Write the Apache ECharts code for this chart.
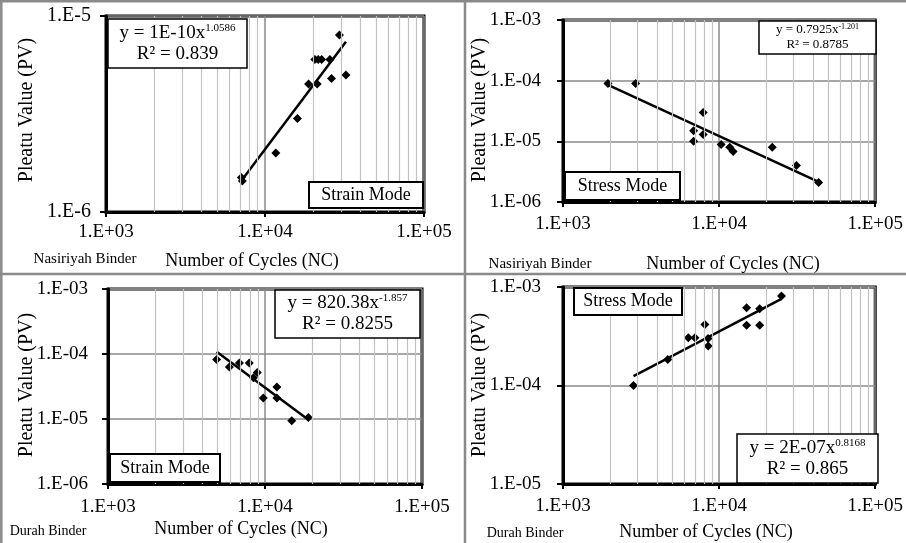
<!DOCTYPE html>
<html>
<head>
<meta charset="utf-8">
<script src="https://cdn.jsdelivr.net/npm/echarts@6/dist/echarts.min.js"></script>
<style>
  html, body { margin: 0; padding: 0; background: #fff; }
  #chart { width: 906px; height: 543px; }
</style>
</head>
<body>
<div id="chart"></div>
<script>
// Nasiriyah binder, strain mode
const nasStrainCycles = [7100, 7200, 11700, 16000, 18800, 21300, 20600, 21600, 22700, 25600, 26200, 29400, 32300];
const nasStrainPV     = [1.5e-6, 1.44e-6, 2.0e-6, 3.0e-6, 4.5e-6, 4.5e-6, 6.0e-6, 6.0e-6, 6.0e-6, 6.0e-6, 4.8e-6, 8.0e-6, 5.0e-6];

// Nasiriyah binder, stress mode
const nasStressCycles = [1940, 2920, 6870, 6870, 7910, 7910, 10300, 11700, 12300, 21900, 31300, 43400];
const nasStressPV     = [9.0e-5, 9.0e-5, 1.5e-5, 1.0e-5, 3.0e-5, 1.3e-5, 8.9e-6, 8.0e-6, 6.8e-6, 8.0e-6, 4.0e-6, 2.1e-6];

// Durah binder, strain mode
const durStrainCycles = [4920, 5930, 6870, 7940, 8440, 8930, 9750, 11900, 11900, 14800, 18900];
const durStrainPV     = [8.2e-5, 6.3e-5, 7.3e-5, 7.3e-5, 4.3e-5, 5.2e-5, 2.1e-5, 3.1e-5, 2.1e-5, 9.4e-6, 1.05e-5];

// Durah binder, stress mode
const durStressCycles = [2830, 4690, 6350, 7000, 8110, 8510, 8500, 15000, 15000, 18200, 18200, 25100];
const durStressPV     = [1.0e-4, 1.84e-4, 3.05e-4, 3.05e-4, 4.15e-4, 2.52e-4, 3.0e-4, 6.15e-4, 4.1e-4, 6.0e-4, 4.1e-4, 8.1e-4];

// Tick labels
const xTickLabels = ['1.E+03', '1.E+04', '1.E+05'];
const yTickLabelsShort = ['1.E-6', '1.E-5'];
const yTickLabelsSix = ['1.E-06', '1.E-05', '1.E-04', '1.E-03'];
const yTickLabelsFive = ['1.E-05', '1.E-04', '1.E-03'];

const SERIF = "'Liberation Serif', 'Times New Roman', serif";

// Least-squares power fit (straight line in log-log space), spanning the data range
function powerTrend(xs, ys) {
  const n = xs.length;
  let sx = 0, sy = 0, sxx = 0, sxy = 0;
  for (let i = 0; i < n; i++) {
    const lx = Math.log(xs[i]), ly = Math.log(ys[i]);
    sx += lx; sy += ly; sxx += lx * lx; sxy += lx * ly;
  }
  const b = (n * sxy - sx * sy) / (n * sxx - sx * sx);
  const a = Math.exp((sy - b * sx) / n);
  const xmin = Math.min(...xs), xmax = Math.max(...xs);
  return [[xmin, a * Math.pow(xmin, b)], [xmax, a * Math.pow(xmax, b)]];
}

// Intermediate gridline values (2..9 in each decade)
function minorValues(loExp, hiExp) {
  const out = [];
  for (let e = loExp; e < hiExp; e++) {
    for (let m = 2; m <= 9; m++) out.push(+(m * Math.pow(10, e)).toPrecision(6));
  }
  return out;
}

function expOf(v) { return Math.round(Math.log10(v)); }

const panels = [
  { grid: { left: 106, top: 16, width: 318, height: 196 }, xs: nasStrainCycles, ys: nasStrainPV,
    yMinExp: -6, yMaxExp: -5, yLabels: yTickLabelsShort, xMargin: 11, yMargin: 15, yFont: 20 },
  { grid: { left: 563, top: 20, width: 314, height: 182 }, xs: nasStressCycles, ys: nasStressPV,
    yMinExp: -6, yMaxExp: -3, yLabels: yTickLabelsSix, xMargin: 13, yMargin: 22, yFont: 19 },
  { grid: { left: 108, top: 289, width: 314, height: 195 }, xs: durStrainCycles, ys: durStrainPV,
    yMinExp: -6, yMaxExp: -3, yLabels: yTickLabelsSix, xMargin: 14, yMargin: 20, yFont: 19 },
  { grid: { left: 563, top: 287, width: 315, height: 197 }, xs: durStressCycles, ys: durStressPV,
    yMinExp: -5, yMaxExp: -3, yLabels: yTickLabelsFive, xMargin: 13, yMargin: 22, yFont: 19 }
];

const grids = [], xAxes = [], yAxes = [], series = [];

panels.forEach((p, i) => {
  grids.push(Object.assign({ show: true, borderColor: '#000', borderWidth: 3, backgroundColor: 'transparent' }, p.grid));

  xAxes.push({
    type: 'log', logBase: 10, gridIndex: i, min: 1e3, max: 1e5,
    axisLine: { show: true, lineStyle: { color: '#000', width: 3 } },
    axisTick: { show: true, length: 5, lineStyle: { color: '#000', width: 2 } },
    axisLabel: { margin: p.xMargin, color: '#000', fontFamily: SERIF, fontSize: 19,
      formatter: v => xTickLabels[expOf(v) - 3] || '', showMinLabel: true, showMaxLabel: true },
    splitLine: { show: true, lineStyle: { color: '#8a8a8a', width: 1.5 } }
  });

  yAxes.push({
    type: 'log', logBase: 10, gridIndex: i, min: Math.pow(10, p.yMinExp), max: Math.pow(10, p.yMaxExp),
    axisLine: { show: true, lineStyle: { color: '#000', width: 3 } },
    axisTick: { show: true, length: 6, lineStyle: { color: '#000', width: 2 } },
    axisLabel: { margin: p.yMargin, color: '#000', fontFamily: SERIF, fontSize: p.yFont,
      formatter: v => p.yLabels[expOf(v) - p.yMinExp] || '', showMinLabel: true, showMaxLabel: true },
    splitLine: { show: true, lineStyle: { color: '#8a8a8a', width: 1.5 } }
  });

  const pts = p.xs.map((x, k) => [x, p.ys[k]]);

  // minor gridlines carried by an invisible copy of the points
  const gridMarks = minorValues(3, 5).map(v => ({ xAxis: v }))
    .concat(minorValues(p.yMinExp, p.yMaxExp).map(v => ({ yAxis: v })));
  series.push({
    type: 'scatter', xAxisIndex: i, yAxisIndex: i, data: pts, symbolSize: 0, silent: true, z: 1,
    markLine: {
      silent: true, symbol: ['none', 'none'], label: { show: false },
      lineStyle: { color: '#c2c2c2', width: 1.2, type: 'solid' },
      emphasis: { disabled: true }, animation: false, data: gridMarks
    }
  });

  series.push({
    type: 'line', xAxisIndex: i, yAxisIndex: i, data: powerTrend(p.xs, p.ys),
    showSymbol: false, symbol: 'none', silent: true, z: 3,
    lineStyle: { color: '#000', width: 2.5 }
  });

  series.push({
    type: 'scatter', xAxisIndex: i, yAxisIndex: i, data: pts, symbol: 'diamond', symbolSize: 9,
    itemStyle: { color: '#000', opacity: 1, borderWidth: 0 }, z: 4, silent: true
  });
});

// --- annotations -------------------------------------------------------
function box(x, y, w, h, lw) {
  return { type: 'rect', z: 100, shape: { x: x, y: y, width: w, height: h },
    style: { fill: '#fff', stroke: '#000', lineWidth: lw } };
}
function label(x, y, text, size, extra) {
  return Object.assign({ type: 'text', z: 101, x: x, y: y,
    style: { text: text, fill: '#000', font: size + 'px ' + SERIF, align: 'center', verticalAlign: 'middle' } }, extra || {});
}
function equation(x, y, w, h, lhs, power, r2, size, supSize, lh) {
  return [
    box(x, y, w, h, 1.5),
    { type: 'text', z: 101, x: x + w / 2, y: y + h / 2,
      style: {
        text: '{m|' + lhs + '}{s|' + power + '}\n{m|' + r2 + '}',
        align: 'center', verticalAlign: 'middle',
        rich: {
          m: { fontFamily: SERIF, fontSize: size, fill: '#000', lineHeight: lh },
          s: { fontFamily: SERIF, fontSize: supSize, fill: '#000', lineHeight: lh, verticalAlign: 'top' }
        }
      } }
  ];
}

const frame = { stroke: '#8a8a8a', lineWidth: 2.5 };
const graphic = [
  { type: 'line', z: 50, shape: { x1: 0, y1: 1.3, x2: 906, y2: 1.3 }, style: frame },
  { type: 'line', z: 50, shape: { x1: 1.3, y1: 0, x2: 1.3, y2: 543 }, style: frame },
  { type: 'line', z: 50, shape: { x1: 465, y1: 0, x2: 465, y2: 543 }, style: frame },
  { type: 'line', z: 50, shape: { x1: 0, y1: 274, x2: 906, y2: 274 }, style: frame },

  // axis titles
  label(252, 261, 'Number of Cycles (NC)', 18),
  label(733, 264, 'Number of Cycles (NC)', 18),
  label(241, 529, 'Number of Cycles (NC)', 18),
  label(706, 532, 'Number of Cycles (NC)', 18),
  label(27, 110, 'Pleatu Value (PV)', 20, { rotation: Math.PI / 2 }),
  label(480, 110, 'Pleatu Value (PV)', 20, { rotation: Math.PI / 2 }),
  label(27, 385, 'Pleatu Value (PV)', 20, { rotation: Math.PI / 2 }),
  label(480, 385, 'Pleatu Value (PV)', 20, { rotation: Math.PI / 2 }),

  // binder names
  label(85, 259, 'Nasiriyah Binder', 15),
  label(540, 264, 'Nasiriyah Binder', 15),
  label(48, 531, 'Durah Binder', 14),
  label(525, 533, 'Durah Binder', 14),

  // mode boxes
  box(309, 182, 114, 26, 2), label(366, 195, 'Strain Mode', 18),
  box(565, 172, 115, 28, 2), label(622.5, 186, 'Stress Mode', 18),
  box(110, 454, 110, 28, 2), label(165, 468, 'Strain Mode', 18),
  box(574, 288, 108, 27, 2), label(628, 301.5, 'Stress Mode', 18)
]
  .concat(equation(108, 19, 139, 49, 'y = 1E-10x', '1.0586', 'R\u00b2 = 0.839', 19, 11, 21))
  .concat(equation(759, 21, 117, 33, 'y = 0.7925x', '-1.201', 'R\u00b2 = 0.8785', 13, 8, 15))
  .concat(equation(275, 290, 145, 48, 'y = 820.38x', '-1.857', 'R\u00b2 = 0.8255', 19, 11, 21))
  .concat(equation(737, 434, 141, 49, 'y = 2E-07x', '0.8168', 'R\u00b2 = 0.865', 19, 11, 21));

const chart = echarts.init(document.getElementById('chart'), null, { renderer: 'canvas' });
chart.setOption({
  animation: false,
  backgroundColor: '#fff',
  grid: grids,
  xAxis: xAxes,
  yAxis: yAxes,
  series: series,
  graphic: graphic
});
</script>
</body>
</html>
